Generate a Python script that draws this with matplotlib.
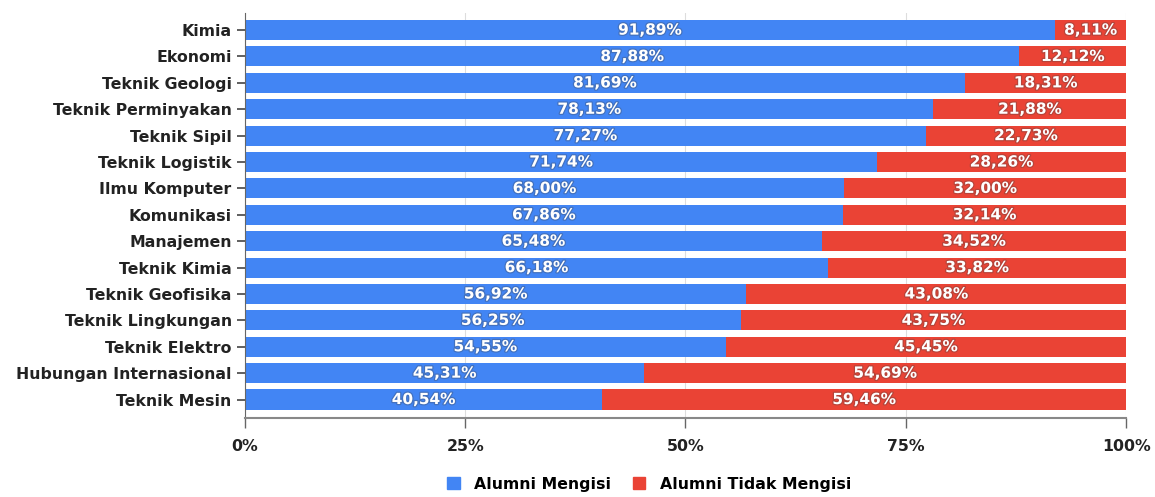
import matplotlib.pyplot as plt
import matplotlib.patheffects as pe
from matplotlib.patches import Patch

jurusan = ["Kimia", "Ekonomi", "Teknik Geologi", "Teknik Perminyakan", "Teknik Sipil",
           "Teknik Logistik", "Ilmu Komputer", "Komunikasi", "Manajemen", "Teknik Kimia",
           "Teknik Geofisika", "Teknik Lingkungan", "Teknik Elektro",
           "Hubungan Internasional", "Teknik Mesin"]
mengisi = [91.89, 87.88, 81.69, 78.13, 77.27, 71.74, 68.00, 67.86, 65.48, 66.18,
           56.92, 56.25, 54.55, 45.31, 40.54]
tidak_mengisi = [8.11, 12.12, 18.31, 21.88, 22.73, 28.26, 32.00, 32.14, 34.52, 33.82,
                 43.08, 43.75, 45.45, 54.69, 59.46]

BLUE = "#4285F4"
RED = "#EA4335"

fig = plt.figure(figsize=(11.55, 4.97), dpi=100)
ax = fig.add_axes([0.212, 0.159, 0.763, 0.815])

y = range(len(jurusan))
ax.barh(y, mengisi, height=0.76, color=BLUE, zorder=2)
ax.barh(y, tidak_mengisi, left=mengisi, height=0.76, color=RED, zorder=2)

shadow = [pe.withStroke(linewidth=1.8, foreground="#444444", alpha=0.3)]


def fmt(v):
    return ("%.2f%%" % v).replace(".", ",")


for i in y:
    ax.text(mengisi[i] / 2, i, fmt(mengisi[i]), ha="center", va="center",
            color="white", fontsize=11, fontweight="bold", path_effects=shadow, zorder=3)
    ax.text(mengisi[i] + tidak_mengisi[i] / 2, i, fmt(tidak_mengisi[i]), ha="center",
            va="center", color="white", fontsize=11, fontweight="bold",
            path_effects=shadow, zorder=3)

ax.set_xlim(0, 100)
ax.set_ylim(14.7, -0.65)
ax.set_yticks(list(y))
ax.set_yticklabels(jurusan, fontsize=11.3, fontweight="bold", color="#222222")
ax.set_xticks([0, 25, 50, 75, 100])
ax.set_xticklabels(["0%", "25%", "50%", "75%", "100%"], fontsize=11.3,
                   fontweight="bold", color="#222222")
ax.tick_params(axis="y", length=11, width=1.2, color="#444444", pad=4, direction="inout")
ax.tick_params(axis="x", length=7, width=1, color="#666666", pad=8)
ax.grid(axis="x", color="#dddddd", linewidth=0.8, zorder=0)

for s in ["top", "right"]:
    ax.spines[s].set_visible(False)
ax.spines["left"].set_color("#666666")
ax.spines["bottom"].set_color("#888888")
ax.spines["bottom"].set_linewidth(1.5)

handles = [Patch(color=BLUE, label="Alumni Mengisi"),
           Patch(color=RED, label="Alumni Tidak Mengisi")]
fig.legend(handles=handles, loc="center", bbox_to_anchor=(0.562, 0.026), ncol=2,
           frameon=False, prop={"weight": "bold", "size": 11.3}, handlelength=0.8,
           handleheight=0.8, columnspacing=1.4, handletextpad=0.9)

fig.savefig("out.png", dpi=100)
